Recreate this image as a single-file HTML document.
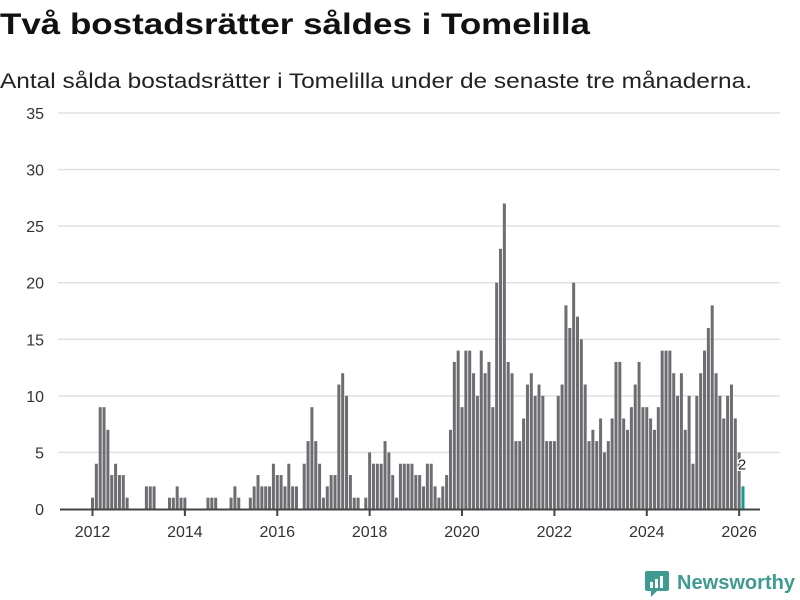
<!DOCTYPE html>
<html><head><meta charset="utf-8">
<style>
html,body{margin:0;padding:0;background:#fff;width:800px;height:600px;overflow:hidden}
svg{display:block;font-family:"Liberation Sans",sans-serif}
</style></head>
<body>
<svg id="chart" width="800" height="600" viewBox="0 0 800 600">
<text x="0" y="34" font-size="30" font-weight="bold" fill="#111" textLength="590" lengthAdjust="spacingAndGlyphs">Två bostadsrätter såldes i Tomelilla</text>
<text x="0" y="88" font-size="21" fill="#222" textLength="752" lengthAdjust="spacingAndGlyphs">Antal sålda bostadsrätter i Tomelilla under de senaste tre månaderna.</text>
<g id="grid"></g>
<g id="bars"></g>
<g id="xaxis"></g>
<g>
<rect x="645" y="571" width="24" height="20" rx="2" fill="#3f9a91"/>
<polygon points="651,591 657,591 651,597" fill="#3f9a91"/>
<rect x="650" y="582" width="3" height="6" fill="#fff"/>
<rect x="655" y="579" width="3" height="9" fill="#fff"/>
<rect x="660" y="576" width="3" height="12" fill="#fff"/>
<text x="677" y="589" font-size="20" font-weight="bold" fill="#3f9a91" textLength="118" lengthAdjust="spacingAndGlyphs">Newsworthy</text>
</g>
</svg>
<script>
const values = [1,4,9,9,7,3,4,3,3,1,0,0,
0,0,2,2,2,0,0,0,1,1,2,1,
1,0,0,0,0,0,1,1,1,0,0,0,
1,2,1,0,0,1,2,3,2,2,2,4,
3,3,2,4,2,2,0,4,6,9,6,4,
1,2,3,3,11,12,10,3,1,1,0,1,
5,4,4,4,6,5,3,1,4,4,4,4,
3,3,2,4,4,2,1,2,3,7,13,14,
9,14,14,12,10,14,12,13,9,20,23,27,
13,12,6,6,8,11,12,10,11,10,6,6,
6,10,11,18,16,20,17,15,11,6,7,6,
8,5,6,8,13,13,8,7,9,11,13,9,
9,8,7,9,14,14,14,12,10,12,7,10,
4,10,12,14,16,18,12,10,8,10,11,8,
5,2];
const yTicks = [0,5,10,15,20,25,30,35];
const xTickLabels = ["2012","2014","2016","2018","2020","2022","2024","2026"];
const xTickIndex = [0,24,48,72,96,120,144,168];

const NS="http://www.w3.org/2000/svg";
const y0=509, yPer=(509-113)/35;
const xFirst=92.5, xLast=743;
const step=(xLast-xFirst)/(values.length-1);
function yS(v){return y0-v*yPer;}
function xS(i){return xFirst+i*step;}
function mk(t,a,p){const e=document.createElementNS(NS,t);for(const k in a)e.setAttribute(k,a[k]);p.appendChild(e);return e;}

const grid=document.getElementById('grid');
yTicks.forEach(t=>{
  if(t>0){const l=mk('line',{x1:58,x2:780,y1:yS(t),y2:yS(t),stroke:'#e0e0e0','stroke-width':1.5},grid);
  
  }
  const tx=mk('text',{x:44,y:yS(t)+6,'text-anchor':'end','font-size':16,fill:'#333'},grid);
  tx.textContent=t;
  
  
});

const bars=document.getElementById('bars');
values.forEach((v,i)=>{
  const last=i===values.length-1;
  const r=mk('rect',{x:xS(i)-1.5,y:yS(v),width:3,height:v*yPer,fill:last?'#1a9a8c':'#6e6d72'},bars);
  
  
});
const li=values.length-1;
const lb=mk('text',{x:xS(li)-1,y:yS(values[li])-17,'text-anchor':'middle','font-size':15,fill:'#222',stroke:'#fff','stroke-width':3,'paint-order':'stroke'},bars);
lb.textContent=values[li];



const xa=document.getElementById('xaxis');
const base=mk('line',{x1:60,x2:760,y1:y0+0.5,y2:y0+0.5,stroke:'#444','stroke-width':2},xa);


xTickIndex.forEach((ix,k)=>{
  const x=xS(ix);
  const tk=mk('line',{x1:x,x2:x,y1:y0,y2:y0+7,stroke:'#444','stroke-width':2},xa);
  
  
  const t=mk('text',{x:x,y:y0+28,'text-anchor':'middle','font-size':16,fill:'#333'},xa);
  t.textContent=xTickLabels[k];
  
  
});
</script>
</body></html>
